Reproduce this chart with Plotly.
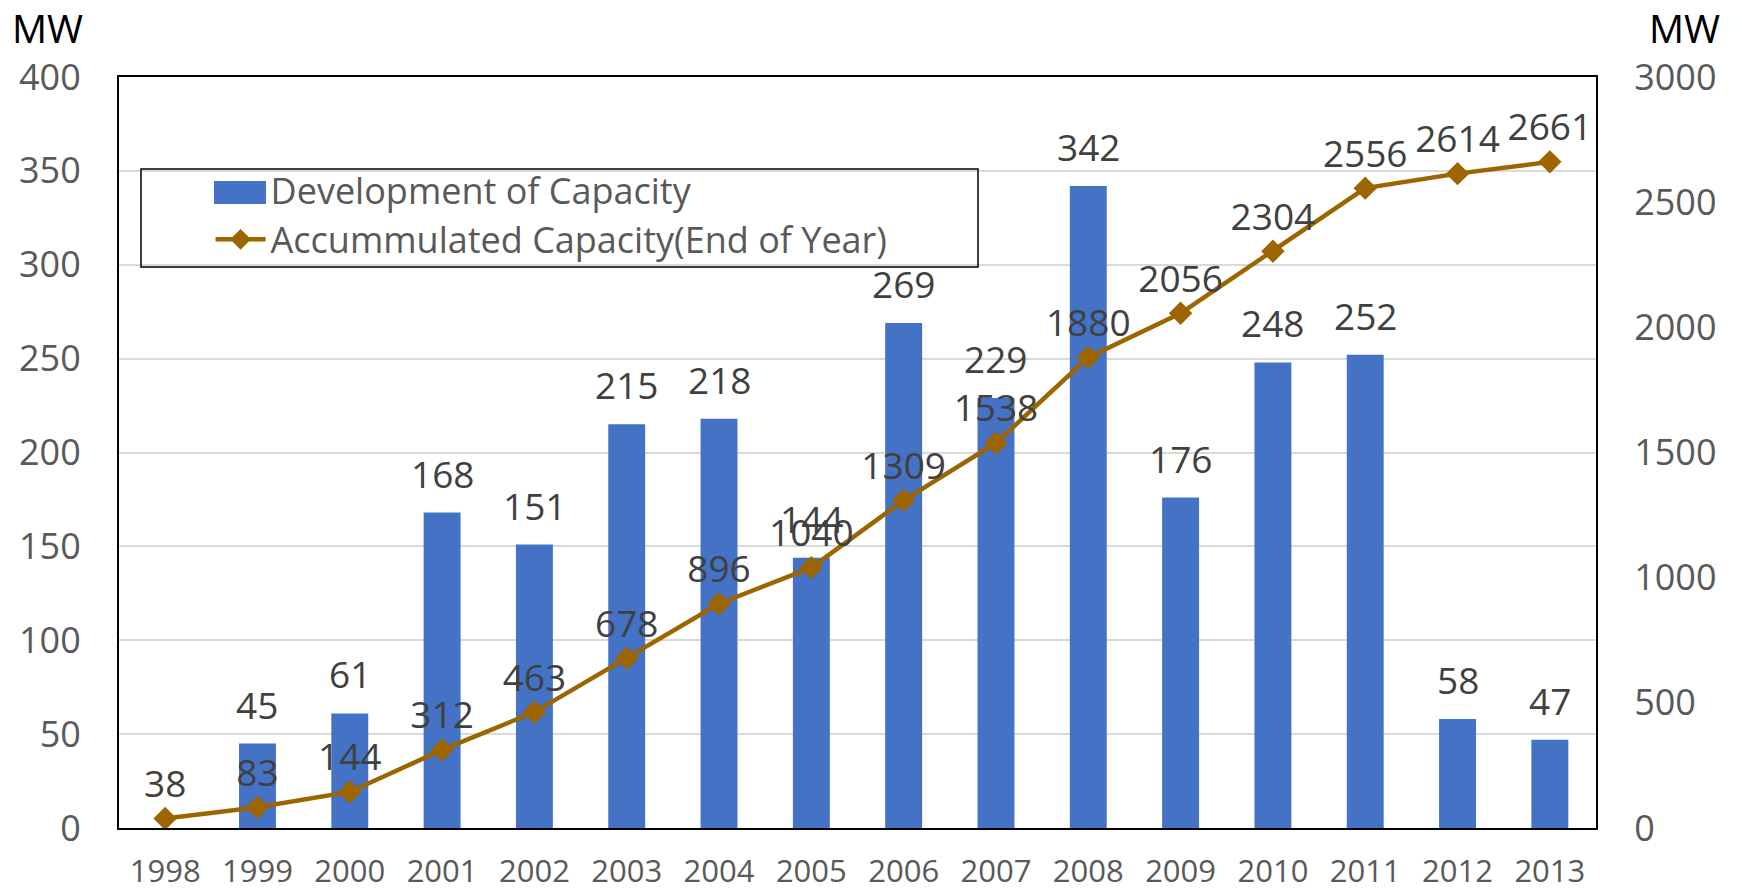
import plotly.graph_objects as go

years = ["1998", "1999", "2000", "2001", "2002", "2003", "2004", "2005",
         "2006", "2007", "2008", "2009", "2010", "2011", "2012", "2013"]
development = [None, 45, 61, 168, 151, 215, 218, 144, 269, 229, 342, 176, 248, 252, 58, 47]
accumulated = [38, 83, 144, 312, 463, 678, 896, 1040, 1309, 1538, 1880, 2056, 2304, 2556, 2614, 2661]
left_ticks = [0, 50, 100, 150, 200, 250, 300, 350, 400]
right_ticks = [0, 500, 1000, 1500, 2000, 2500, 3000]

FONT = "Open Sans"
BAR_C = "#4472C4"
LINE_C = "#9C6500"
LABEL_C = "#404040"

fig = go.Figure()
fig.add_trace(go.Bar(
    x=years, y=development, name="Development of Capacity",
    marker=dict(color=BAR_C, line=dict(width=0)),
))
fig.add_trace(go.Scatter(
    x=years, y=accumulated, name="Accummulated Capacity(End of Year)", yaxis="y2",
    mode="lines+markers+text",
    line=dict(color=LINE_C, width=4.5),
    marker=dict(symbol="diamond", size=18, color=LINE_C),
    text=[str(v) for v in accumulated], textposition="top center",
    textfont=dict(size=37, color=LABEL_C, family=FONT),
    cliponaxis=False,
))

# bar value labels (placed above each bar like the source chart);
# category index used as x so numeric-looking year names are not misread
bar_labels = [
    dict(x=i, y=v, xref="x", yref="y", text=str(v), showarrow=False,
         xanchor="center", yanchor="bottom", yshift=12,
         font=dict(size=37, color=LABEL_C, family=FONT))
    for i, v in enumerate(development) if v is not None
]

fig.update_layout(
    width=1734, height=886,
    margin=dict(l=111, r=146, t=69, b=66, autoexpand=False),
    paper_bgcolor="white", plot_bgcolor="white",
    font=dict(family=FONT, color="#595959"),
    bargap=0.6,
    showlegend=True,
    legend=dict(x=0.062, y=0.89, xanchor="left", yanchor="top",
                bgcolor="rgba(0,0,0,0)", borderwidth=0,
                font=dict(size=36, color="#595959", family=FONT),
                itemwidth=50, tracegroupgap=0),
    xaxis=dict(type="category", range=[-0.5, len(years) - 0.5],
               showline=True, linecolor="black", linewidth=2,
               mirror=True, showgrid=False, ticks="outside", ticklen=15,
               tickcolor="rgba(0,0,0,0)", automargin=False,
               tickfont=dict(size=31, color="#595959", family=FONT)),
    yaxis=dict(range=[0, 400], tickvals=left_ticks, showline=True, linecolor="black",
               linewidth=2, mirror=True, showgrid=True, gridcolor="#D9D9D9", gridwidth=1.5,
               zeroline=False, ticks="outside", ticklen=29, tickcolor="rgba(0,0,0,0)",
               automargin=False,
               tickfont=dict(size=36, color="#595959", family=FONT)),
    yaxis2=dict(range=[0, 3000], tickvals=right_ticks, overlaying="y", side="right",
                showgrid=False, zeroline=False, showline=False, automargin=False,
                ticks="outside", ticklen=30, tickcolor="rgba(0,0,0,0)",
                tickfont=dict(size=36, color="#595959", family=FONT)),
    shapes=[
        dict(type="rect", xref="paper", yref="paper",
             x0=0.0149, x1=0.5816, y0=0.747, y1=0.8775,
             line=dict(color="black", width=1.5), fillcolor="rgba(0,0,0,0)"),
        # widened legend swatch for the bar series
        dict(type="rect", xref="paper", yref="paper", layer="above",
             x0=0.0643, x1=0.0995, y0=0.8309, y1=0.8615,
             line=dict(width=0), fillcolor=BAR_C),
    ],
    annotations=bar_labels + [
        dict(text="MW", xref="paper", yref="paper", x=-0.0487, y=1.066,
             xanchor="center", yanchor="middle",
             showarrow=False, font=dict(size=39, color="black", family=FONT)),
        dict(text="MW", xref="paper", yref="paper", x=1.060, y=1.066,
             xanchor="center", yanchor="middle",
             showarrow=False, font=dict(size=39, color="black", family=FONT)),
    ],
)

fig.write_html("out.html")
